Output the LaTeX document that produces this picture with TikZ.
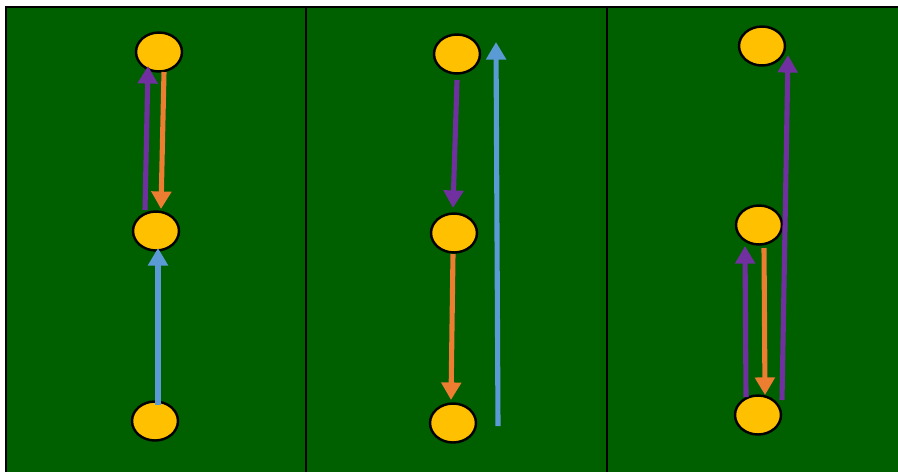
\documentclass[tikz,border=0pt]{standalone}
\usetikzlibrary{shapes.geometric,arrows.meta,calc}

\definecolor{pitch}{RGB}{0,96,0}
\definecolor{cone}{RGB}{255,192,0}
\definecolor{runP}{RGB}{112,48,160}
\definecolor{runO}{RGB}{237,125,49}
\definecolor{runB}{RGB}{91,155,213}

\begin{document}
\begin{tikzpicture}[
  x=0.02cm, y=-0.02cm,
  spot/.style={ellipse, draw, line width=1.4pt, fill=cone,
               minimum width=0.92cm, minimum height=0.78cm, inner sep=0pt},
  run/.style={-{Triangle[width=11pt,length=10pt]}, line width=2.9pt}
]
  \useasboundingbox (0,0) rectangle (898,471);
  \clip (0,0) rectangle (898,471);

  % field and panels
  \fill[white] (0,0) rectangle (898,471);
  \draw[line width=1.2pt, fill=pitch] (6,7) rectangle (905,480);
  \draw[line width=1.2pt] (306,7) -- (306,480);
  \draw[line width=1.2pt] (607,7) -- (607,480);

  % panel 1
  \node[spot] (p1a) at (159,52) {};
  \node[spot] (p1b) at (156,231) {};
  \node[spot] (p1c) at (155,421) {};
  \draw[run, runP] ($(p1b)+(-11,-21)$) -- ($(p1a)+(-11,14)$);
  \draw[run, runO] ($(p1a)+(5,20)$) -- ($(p1b)+(5,-22)$);
  \draw[run, runB] ($(p1c)+(3,-16)$) -- ($(p1b)+(2,17)$);

  % panel 2
  \node[spot] (p2a) at (457,54) {};
  \node[spot] (p2b) at (454,233) {};
  \node[spot] (p2c) at (453,423) {};
  \draw[run, runP] ($(p2a)+(0,26)$) -- ($(p2b)+(-1,-25)$);
  \draw[run, runO] ($(p2b)+(-1,21)$) -- ($(p2c)+(-2,-23)$);
  \draw[run, runB] ($(p2c)+(45,3)$) -- ($(p2a)+(39,-12)$);

  % panel 3
  \node[spot] (p3a) at (762,46) {};
  \node[spot] (p3b) at (759,225) {};
  \node[spot] (p3c) at (758,415) {};
  \draw[run, runP] ($(p3c)+(24,-15)$) -- ($(p3a)+(26,9)$);
  \draw[run, runP] ($(p3c)+(-12,-18)$) -- ($(p3b)+(-14,21)$);
  \draw[run, runO] ($(p3b)+(5,23)$) -- ($(p3c)+(7,-20)$);
\end{tikzpicture}
\end{document}
